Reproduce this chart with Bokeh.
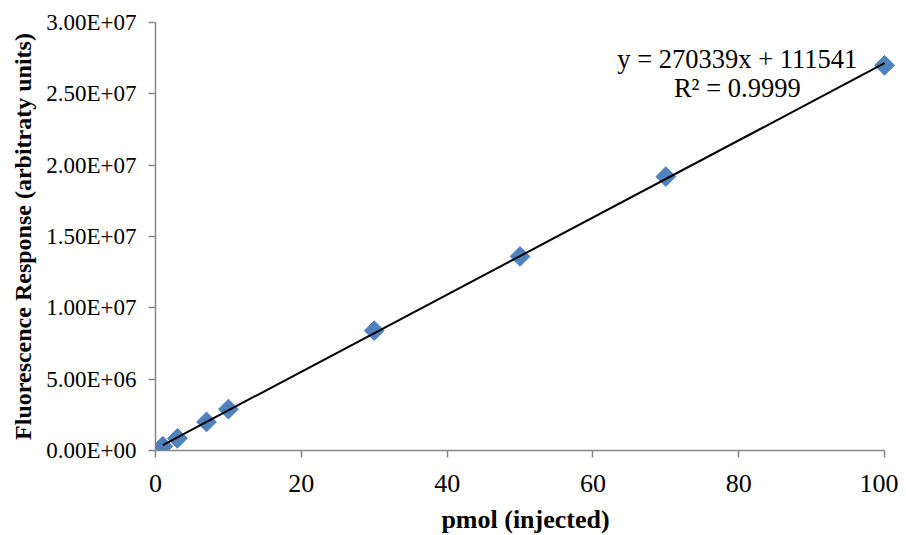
import numpy as np
from bokeh.plotting import figure
from bokeh.models import Range1d, SingleIntervalTicker, CustomJSTickFormatter, Label, ColumnDataSource
from bokeh.embed import file_html
from bokeh.resources import INLINE

# Data
pmol = [1, 3, 7, 10, 30, 50, 70, 100]
response = [3.0e5, 8.5e5, 2.0e6, 2.9e6, 8.4e6, 1.36e7, 1.92e7, 2.70e7]

# Trendline as printed on the chart
slope = 270339
intercept = 111541
r_squared = "0.9999"
trend_x = [pmol[0], pmol[-1]]
trend_y = [slope * x + intercept for x in trend_x]

x_title = "pmol (injected)"
y_title = "Fluorescence Response (arbitraty units)"

FONT = "Liberation Serif"
AXIS_COLOR = "#868686"

p = figure(frame_width=740, frame_height=428,
           min_border_left=155, min_border_right=3, min_border_top=22, min_border_bottom=77,
           output_backend="svg", toolbar_location=None,
           x_range=Range1d(0, 101.5), y_range=Range1d(0, 3.0e7))
p.outline_line_color = None
p.grid.visible = False

src = ColumnDataSource(dict(x=pmol, y=response))
p.scatter("x", "y", source=src, marker="square", angle=np.pi / 4, size=14,
          fill_color="#4F81BD", line_color="#4F81BD")
p.line(trend_x, trend_y, line_color="black", line_width=2)

# X axis
p.xaxis.bounds = (0, 100)
p.xaxis.ticker = SingleIntervalTicker(interval=20, num_minor_ticks=0)
p.xaxis.axis_line_color = AXIS_COLOR
p.xaxis.axis_line_width = 1.5
p.xaxis.major_tick_line_color = AXIS_COLOR
p.xaxis.major_tick_line_width = 1.5
p.xaxis.major_tick_in = 0
p.xaxis.major_tick_out = 7
p.xaxis.minor_tick_line_color = None
p.xaxis.major_label_text_font = FONT
p.xaxis.major_label_text_font_size = "26px"
p.xaxis.major_label_text_color = "black"
p.xaxis.major_label_standoff = 17
p.xaxis.axis_label = x_title
p.xaxis.axis_label_text_font = FONT
p.xaxis.axis_label_text_font_style = "bold"
p.xaxis.axis_label_text_font_size = "26px"
p.xaxis.axis_label_text_color = "black"
p.xaxis.axis_label_standoff = 10

# Y axis
p.yaxis.bounds = (0, 3.0e7)
p.yaxis.ticker = SingleIntervalTicker(interval=5e6, num_minor_ticks=0)
p.yaxis.formatter = CustomJSTickFormatter(code="""
    const s = tick.toExponential(2).toUpperCase();
    const parts = s.split('E');
    const sign = parts[1][0];
    const d = parts[1].slice(1).padStart(2, '0');
    return parts[0] + 'E' + sign + d;
""")
p.yaxis.axis_line_color = AXIS_COLOR
p.yaxis.axis_line_width = 1.5
p.yaxis.major_tick_line_color = AXIS_COLOR
p.yaxis.major_tick_line_width = 1.5
p.yaxis.major_tick_in = 0
p.yaxis.major_tick_out = 7
p.yaxis.minor_tick_line_color = None
p.yaxis.major_label_text_font = FONT
p.yaxis.major_label_text_font_size = "23px"
p.yaxis.major_label_text_color = "black"
p.yaxis.major_label_standoff = 12
p.yaxis.axis_label = y_title
p.yaxis.axis_label_text_font = FONT
p.yaxis.axis_label_text_font_style = "bold"
p.yaxis.axis_label_text_font_size = "24px"
p.yaxis.axis_label_text_color = "black"
p.yaxis.axis_label_standoff = 7

# Trendline equation
p.add_layout(Label(x=79.8, y=2.746e7, text=f"y = {slope}x + {intercept}",
                   text_align="center", text_baseline="alphabetic",
                   text_font=FONT, text_font_size="26.5px", text_color="black"))
p.add_layout(Label(x=79.8, y=2.544e7, text=f"R² = {r_squared}",
                   text_align="center", text_baseline="alphabetic",
                   text_font=FONT, text_font_size="26.5px", text_color="black"))

open("out.html", "w").write(file_html(p, INLINE))
